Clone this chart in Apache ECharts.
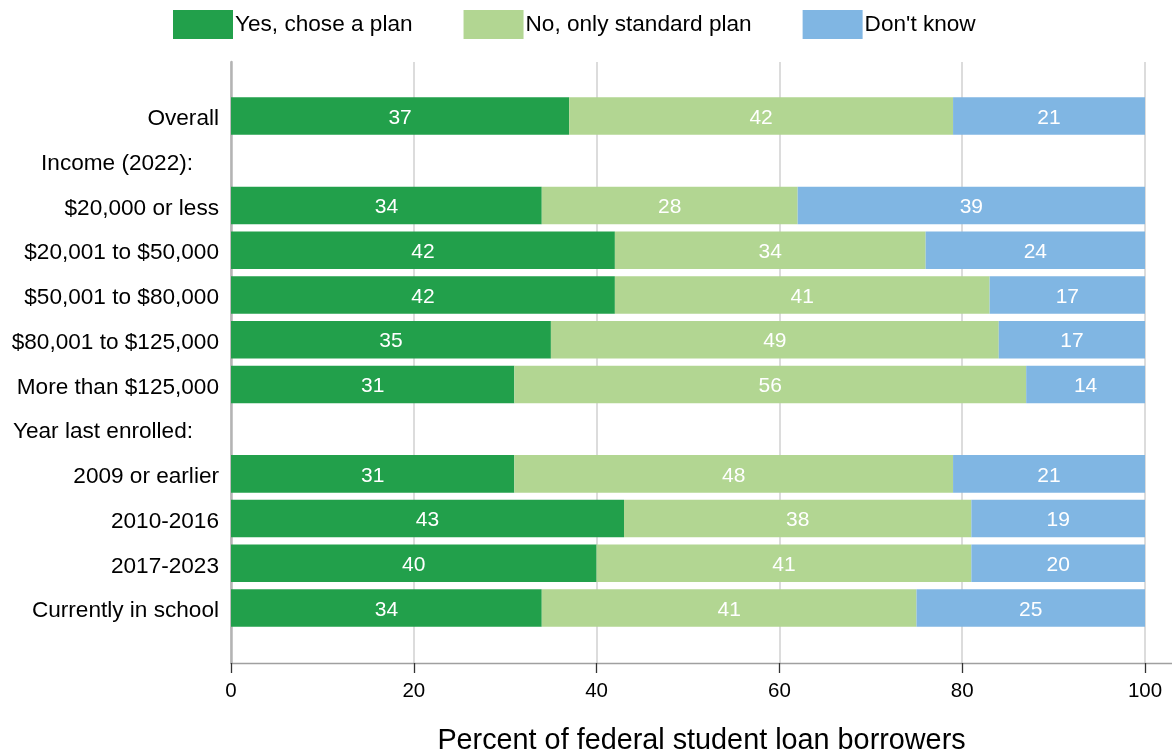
<!DOCTYPE html>
<html>
<head>
<meta charset="utf-8">
<script src="https://cdn.jsdelivr.net/npm/echarts@6/dist/echarts.min.js"></script>
<style>
  html, body { margin: 0; padding: 0; background: #fff; }
  #chart { width: 1172px; height: 754px; }
</style>
</head>
<body>
<div id="chart"></div>
<script>
// Rows of the chart, top to bottom; header rows carry no bars.
const categories = [
  'Overall',
  'Income (2022):',
  '$20,000 or less',
  '$20,001 to $50,000',
  '$50,001 to $80,000',
  '$80,001 to $125,000',
  'More than $125,000',
  'Year last enrolled:',
  '2009 or earlier',
  '2010-2016',
  '2017-2023',
  'Currently in school'
];
const headerRows = ['Income (2022):', 'Year last enrolled:'];
const seriesNames = ['Yes, chose a plan', 'No, only standard plan', "Don't know"];
const choseAPlan   = [37, null, 34, 42, 42, 35, 31, null, 31, 43, 40, 34];
const standardOnly = [42, null, 28, 34, 41, 49, 56, null, 48, 38, 41, 41];
const dontKnow     = [21, null, 39, 24, 17, 17, 14, null, 21, 19, 20, 25];
const xTicks = [0, 20, 40, 60, 80, 100];
const axisTitle = 'Percent of federal student loan borrowers';

const colors = ['#22a04b', '#b2d692', '#80b6e3'];
const FONT = '"Liberation Sans", Arial, Helvetica, sans-serif';

const chart = echarts.init(document.getElementById('chart'));

function barSeries(name, data, color) {
  return {
    name: name,
    type: 'bar',
    stack: 'total',
    xAxisIndex: 1,
    yAxisIndex: 1,
    data: data,
    barCategoryGap: '16%',
    itemStyle: { color: color },
    label: {
      show: true,
      position: 'inside',
      offset: [0, 2],
      color: '#fff',
      fontSize: 21,
      fontFamily: FONT,
      formatter: p => (p.value == null ? '' : p.value)
    },
    emphasis: { disabled: true },
    clip: true
  };
}

chart.setOption({
  animation: false,
  textStyle: { fontFamily: FONT },
  legend: {
    top: 5,
    left: 168,
    itemWidth: 60,
    itemHeight: 29,
    itemGap: 51,
    icon: 'rect',
    textStyle: { fontSize: 22.6, color: '#000', fontFamily: FONT, padding: [0, 0, 0, -3] },
    data: seriesNames
  },
  grid: [
    // frame: gridlines, ticks, left axis line
    { left: 231, right: 27, top: 62, height: 601, outerBoundsMode: 'none' },
    // bars
    { left: 231, right: 27, top: 93.7, height: 536.7, outerBoundsMode: 'none' },
    // baseline running to the right edge, with axis title
    { left: 231, right: 0, top: 62, height: 601, outerBoundsMode: 'none' }
  ],
  xAxis: [
    {
      gridIndex: 0, type: 'value', min: xTicks[0], max: xTicks[xTicks.length - 1], interval: 20,
      axisLine: { show: false },
      axisTick: { show: true, length: 10, lineStyle: { color: '#333', width: 1.3 } },
      axisLabel: { fontSize: 20.5, color: '#000', margin: 18, fontFamily: FONT },
      splitLine: { show: true, lineStyle: { color: '#dcdcdc', width: 2 } }
    },
    {
      gridIndex: 1, type: 'value', min: 0, max: 100, show: false
    },
    {
      gridIndex: 2, type: 'value', min: 0, max: 1, position: 'bottom',
      axisLine: { show: true, onZero: false, lineStyle: { color: '#a0a0a0', width: 1.3 } },
      axisTick: { show: false }, axisLabel: { show: false }, splitLine: { show: false },
      name: axisTitle, nameLocation: 'middle', nameGap: 64,
      nameTextStyle: { fontSize: 28.8, color: '#000', fontFamily: FONT }
    }
  ],
  yAxis: [
    {
      gridIndex: 0, type: 'value', min: 0, max: 1,
      axisLine: { show: true, onZero: false, lineStyle: { color: '#b4b4b4', width: 2.5 } },
      axisTick: { show: false }, axisLabel: { show: false }, splitLine: { show: false }
    },
    {
      gridIndex: 1, type: 'category', inverse: true, data: categories,
      axisLine: { show: false }, axisTick: { show: false },
      axisLabel: {
        fontSize: 22.6, color: '#000', margin: 12, fontFamily: FONT,
        verticalAlign: 'top', lineHeight: 6,
        // group headings sit a little further left than the row labels
        formatter: v => (headerRows.includes(v) ? '{h|' + v + '}' : v),
        rich: {
          h: { fontSize: 22.6, color: '#000', fontFamily: FONT, lineHeight: 6, padding: [0, 26, 0, 0] }
        }
      }
    },
    {
      gridIndex: 2, type: 'value', show: false, min: 0, max: 1
    }
  ],
  series: [
    barSeries(seriesNames[0], choseAPlan, colors[0]),
    barSeries(seriesNames[1], standardOnly, colors[1]),
    barSeries(seriesNames[2], dontKnow, colors[2])
  ]
});
</script>
</body>
</html>
